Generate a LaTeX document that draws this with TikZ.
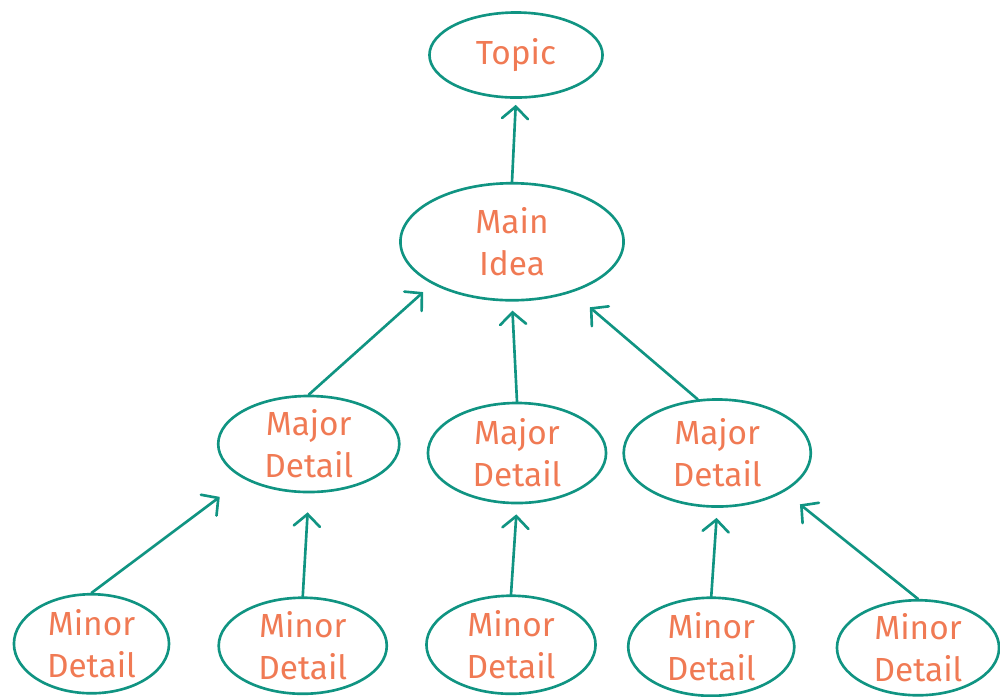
\documentclass[tikz,border=0pt]{standalone}
\usepackage{fontspec}
\setmainfont{Fira Sans}
\usetikzlibrary{shapes.geometric,arrows.meta,positioning}

\definecolor{ideateal}{RGB}{16,148,130}
\definecolor{ideaorange}{RGB}{240,122,84}

\begin{document}
\begin{tikzpicture}[
     x=0.01cm, y=-0.01cm,
     align=center,
     every edge/.style={draw=ideateal,line width=0.75pt,line cap=round,
       -{Straight Barb[length=1.2mm,width=2.6mm,line cap=round]}},
     idea/.style={ellipse,draw=ideateal,line width=0.75pt,text=ideaorange,
       inner sep=-1.5pt,font=\fontsize{9.5}{12}\selectfont}]

    \useasboundingbox (0,0) rectangle (1000,696);

    \node[idea,minimum width=1.73cm,minimum height=0.85cm] (topic) at (516,55) {Topic};

    \node[idea,minimum width=2.23cm,minimum height=1.17cm] (main)
      [below=0.83cm of topic,xshift=-0.04cm] {Main\\Idea};

    % major details
    \node[idea,minimum width=1.78cm,minimum height=1.00cm] (major2)
      [below=1.00cm of main,xshift=0.05cm] {Major\\Detail};
    \node[idea,minimum width=1.81cm,minimum height=0.96cm] (major1)
      [left=0.26cm of major2,yshift=0.09cm] {Major\\Detail};
    \node[idea,minimum width=1.87cm,minimum height=1.07cm] (major3)
      [right=0.15cm of major2] {Major\\Detail};

    % minor details
    \node[idea,minimum width=1.69cm,minimum height=0.98cm] (minor3)
      [below=0.90cm of major2,xshift=-0.06cm] {Minor\\Detail};
    \node[idea,minimum width=1.68cm,minimum height=0.96cm] (minor2)
      [left=0.37cm of minor3,yshift=-0.01cm] {Minor\\Detail};
    \node[idea,minimum width=1.55cm,minimum height=0.99cm] (minor1)
      [left=0.47cm of minor2,yshift=0.02cm] {Minor\\Detail};
    \node[idea,minimum width=1.66cm,minimum height=0.98cm] (minor4)
      [right=0.30cm of minor3,yshift=-0.02cm] {Minor\\Detail};
    \node[idea,minimum width=1.62cm,minimum height=0.95cm] (minor5)
      [right=0.40cm of minor4,yshift=-0.01cm] {Minor\\Detail};

    \path (main.north) edge [shorten >=0.06cm] (topic.south);

    \path (major1.north) edge [shorten >=0.12cm] (main.south west);
    \path (major2.north) edge [shorten >=0.09cm] (main.south);
    \path (major3.110) edge [shorten >=0.23cm] (main.-40);

    \path (minor1.north) edge [shorten >=0.30cm] (major1.south west);
    \path (minor2.north) edge [shorten >=0.19cm] (major1.south);
    \path (minor3.north) edge [shorten >=0.10cm] (major2.south);
    \path (minor4.north) edge [shorten >=0.10cm] (major3.south);
    \path (minor5.north) edge [shorten >=0.20cm] (major3.south east);

  \end{tikzpicture}
\end{document}
